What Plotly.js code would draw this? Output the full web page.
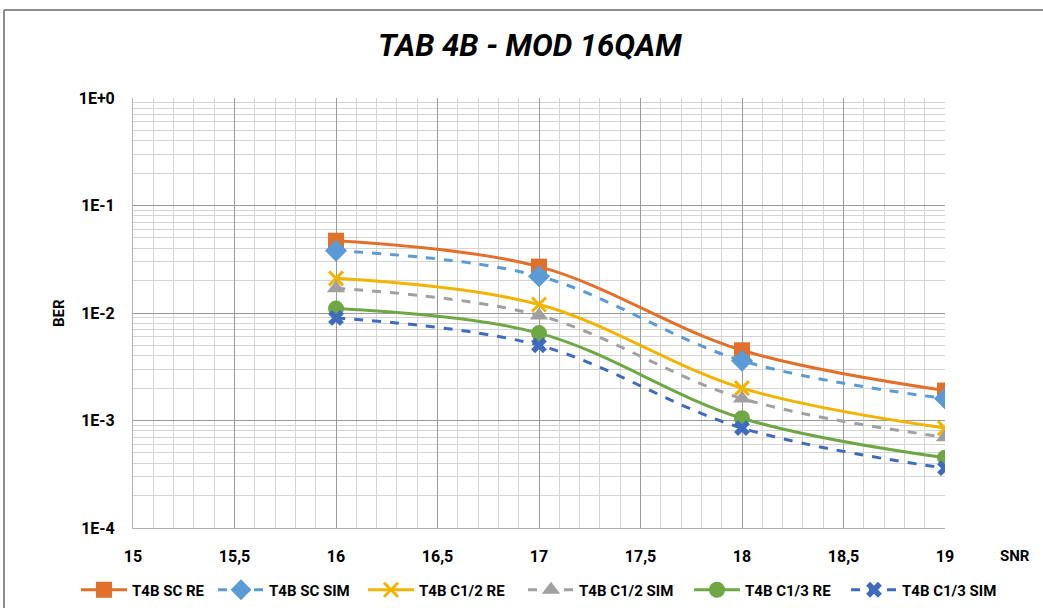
<!DOCTYPE html>
<html>
<head>
<meta charset="utf-8">
<script src="https://cdn.plot.ly/plotly-3.0.1.min.js"></script>
<style>html,body{margin:0;padding:0;background:#fff;}#chart{width:1043px;height:608px;}</style>
</head>
<body>
<div id="chart"></div>
<script>
const snr = [16, 17, 18, 19];
const scRe = [0.047, 0.027, 0.0045, 0.0019];
const scSim = [0.038, 0.022, 0.0036, 0.0016];
const c12Re = [0.021, 0.012, 0.002, 0.00085];
const c12Sim = [0.017, 0.0095, 0.0016, 0.0007];
const c13Re = [0.011, 0.0065, 0.00105, 0.00045];
const c13Sim = [0.009, 0.005, 0.00085, 0.00036];
const seriesNames = ["T4B SC RE", "T4B SC SIM", "T4B C1/2 RE", "T4B C1/2 SIM", "T4B C1/3 RE", "T4B C1/3 SIM"];
const xTickVals = [15, 15.5, 16, 16.5, 17, 17.5, 18, 18.5, 19];
const xTickText = ["15", "15,5", "16", "16,5", "17", "17,5", "18", "18,5", "19"];
const yTickVals = [1, 0.1, 0.01, 0.001, 0.0001];
const yTickText = ["1E+0", "1E-1", "1E-2", "1E-3", "1E-4"];

const FONT = "Roboto, sans-serif";
const legendLeft = [76, 213, 363, 523, 689, 846];

function tr(i, y, color, dash, symbol, msize, mline) {
  return {
    type: "scatter", mode: "lines+markers", name: seriesNames[i], x: snr, y: y,
    legend: i === 0 ? "legend" : "legend" + (i + 1),
    line: {color: color, width: 3, dash: dash, shape: "spline", smoothing: 1},
    marker: {symbol: symbol, size: msize, color: color, line: mline || {width: 0}}
  };
}

const data = [
  tr(0, scRe, "#E2702A", "solid", "square", 16),
  tr(1, scSim, "#5B9BD5", "dash", "diamond", 17),
  tr(2, c12Re, "#F2B400", "solid", "x-thin-open", 14, {width: 3, color: "#F2B400"}),
  tr(3, c12Sim, "#A0A0A0", "dash", "triangle-up", 16),
  tr(4, c13Re, "#6EA845", "solid", "circle", 16),
  tr(5, c13Sim, "#3F6BBF", "dash", "x", 14)
];

function leg(i) {
  return {orientation: "h", xref: "container", yref: "container", x: legendLeft[i] / 1043, xanchor: "left", y: 1 - 590 / 608, yanchor: "middle", font: {family: FONT, size: 15, color: "#000", weight: "bold"}, itemwidth: 46, bgcolor: "rgba(0,0,0,0)"};
}

const layout = {
  width: 1043, height: 608,
  margin: {l: 133, r: 98, t: 98, b: 80},
  paper_bgcolor: "#fff", plot_bgcolor: "#fff",
  font: {family: FONT, size: 15, color: "#000"},
  title: {text: "<b><i>TAB 4B - MOD 16QAM</i></b>", font: {family: FONT, size: 31, color: "#000"}, x: 0.508, xanchor: "center", y: 0.925, yanchor: "middle"},
  showlegend: true,
  legend: leg(0), legend2: leg(1), legend3: leg(2), legend4: leg(3), legend5: leg(4), legend6: leg(5),
  xaxis: {
    range: [15, 19], tickvals: xTickVals, ticktext: xTickText,
    showgrid: true, gridcolor: "#9a9a9a", gridwidth: 1,
    minor: {dtick: 0.1, showgrid: true, gridcolor: "#d4d4d4", gridwidth: 1},
    showline: true, linecolor: "#b0b0b0", linewidth: 1, mirror: false,
    zeroline: false, ticks: "", tickfont: {family: FONT, size: 16, color: "#000", weight: "bold"},
    ticklabelstandoff: 14, automargin: false
  },
  yaxis: {
    type: "log", range: [-4, 0], tickvals: yTickVals, ticktext: yTickText,
    showgrid: true, gridcolor: "#9a9a9a", gridwidth: 1,
    minor: {dtick: "D1", showgrid: true, gridcolor: "#d4d4d4", gridwidth: 1},
    showline: true, linecolor: "#b0b0b0", linewidth: 1,
    zeroline: false, ticks: "", tickfont: {family: FONT, size: 16, color: "#000", weight: "bold"},
    ticklabelstandoff: 14, automargin: false
  },
  annotations: [
    {text: "<b>SNR</b>", xref: "paper", yref: "paper", x: (1015 - 133) / 812, y: (528 - 556) / 430, xanchor: "center", yanchor: "middle", showarrow: false, font: {family: FONT, size: 15, color: "#000"}},
    {text: "<b>BER</b>", xref: "paper", yref: "paper", x: (59 - 133) / 812, y: (528 - 313) / 430, xanchor: "center", yanchor: "middle", textangle: -90, showarrow: false, font: {family: FONT, size: 15, color: "#000"}}
  ],
  shapes: [
    {type: "line", xref: "paper", yref: "paper", x0: (4 - 133) / 812, x1: (4 - 133) / 812, y0: (528 - 10) / 430, y1: (528 - 620) / 430, line: {color: "#8c8c8c", width: 2}},
    {type: "line", xref: "paper", yref: "paper", x0: (4 - 133) / 812, x1: (1050 - 133) / 812, y0: (528 - 10) / 430, y1: (528 - 10) / 430, line: {color: "#8c8c8c", width: 2}}
  ]
};

Plotly.newPlot("chart", data, layout, {staticPlot: true});
</script>
</body>
</html>
